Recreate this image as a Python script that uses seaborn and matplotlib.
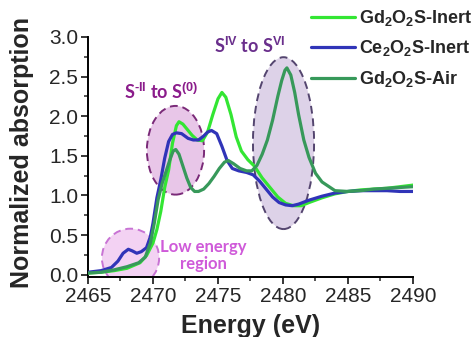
import numpy as np
import pandas as pd
import matplotlib
matplotlib.use("Agg")
import matplotlib.pyplot as plt
from matplotlib.patches import Ellipse
from matplotlib.ticker import MultipleLocator
import seaborn as sns

# ---------------- data ----------------
gd_inert_E = [2465, 2466, 2467, 2468, 2469, 2469.5, 2470.0, 2470.3, 2470.6, 2470.9,
              2471.2, 2471.5, 2471.8, 2472.0, 2472.3, 2472.6, 2473.0, 2473.4, 2473.8,
              2474.2, 2474.6, 2475.0, 2475.3, 2475.6, 2476.0, 2476.4, 2476.8, 2477.3,
              2477.8, 2478.4, 2479.0, 2479.6, 2480.2, 2480.8, 2481.4, 2482.0, 2483.0,
              2484.0, 2485.0, 2486.0, 2487.0, 2488.0, 2489.0, 2490.0]
gd_inert_A = [0.02, 0.03, 0.05, 0.08, 0.15, 0.24, 0.40, 0.57, 0.80, 1.10,
              1.32, 1.66, 1.88, 1.93, 1.90, 1.84, 1.76, 1.70, 1.69,
              1.80, 2.02, 2.22, 2.30, 2.24, 2.02, 1.74, 1.56, 1.45,
              1.37, 1.22, 1.10, 0.98, 0.90, 0.87, 0.87, 0.91, 0.97,
              1.02, 1.05, 1.07, 1.08, 1.09, 1.11, 1.13]

ce_inert_E = [2465, 2466, 2466.8, 2467.3, 2467.7, 2468.1, 2468.4, 2468.75, 2469.1, 2469.5,
              2469.8, 2470.0, 2470.3, 2470.6, 2470.9, 2471.2, 2471.5, 2471.8, 2472.2,
              2472.7, 2473.1, 2473.5, 2473.9, 2474.2, 2474.5, 2474.9, 2475.3, 2475.7,
              2476.1, 2476.6, 2477.2, 2477.7, 2478.2, 2478.7, 2479.2, 2479.7, 2480.2,
              2480.7, 2481.2, 2482.0, 2483.0, 2484.0, 2485.0, 2486.0, 2487.0, 2488.0,
              2489.0, 2490.0]
ce_inert_A = [0.03, 0.05, 0.09, 0.17, 0.27, 0.32, 0.30, 0.27, 0.29, 0.34,
              0.48, 0.65, 0.97, 1.20, 1.47, 1.68, 1.77, 1.79, 1.78,
              1.72, 1.70, 1.70, 1.75, 1.80, 1.82, 1.78, 1.62, 1.44,
              1.34, 1.31, 1.29, 1.26, 1.18, 1.08, 0.98, 0.91, 0.88,
              0.87, 0.89, 0.94, 0.99, 1.03, 1.05, 1.06, 1.06, 1.06,
              1.05, 1.05]

gd_air_E = [2465, 2466, 2467, 2468, 2468.9, 2469.4, 2469.8, 2470.1, 2470.4, 2470.7,
            2471.0, 2471.3, 2471.55, 2471.75, 2472.0, 2472.3, 2472.6, 2472.9, 2473.2,
            2473.5, 2473.9, 2474.3, 2474.7, 2475.1, 2475.5, 2475.8, 2476.2, 2476.7,
            2477.2, 2477.6, 2478.0, 2478.4, 2478.8, 2479.2, 2479.6, 2479.9, 2480.15,
            2480.3, 2480.6, 2480.9, 2481.2, 2481.6, 2482.0, 2482.5, 2483.0, 2484.0,
            2485.0, 2486.0, 2487.0, 2488.0, 2489.0, 2490.0]
gd_air_A = [0.02, 0.03, 0.06, 0.10, 0.15, 0.22, 0.40, 0.65, 0.95, 1.15,
            1.30, 1.45, 1.56, 1.58, 1.52, 1.37, 1.22, 1.10, 1.05,
            1.05, 1.08, 1.15, 1.24, 1.34, 1.42, 1.44, 1.40, 1.34,
            1.31, 1.31, 1.38, 1.52, 1.70, 1.95, 2.25, 2.45, 2.58,
            2.61, 2.52, 2.30, 2.02, 1.70, 1.48, 1.28, 1.17, 1.06,
            1.05, 1.06, 1.08, 1.09, 1.10, 1.11]

series_names = ["Gd$_2$O$_2$S-Inert", "Ce$_2$O$_2$S-Inert", "Gd$_2$O$_2$S-Air"]
series_colors = ["#33e633", "#3034b8", "#37995a"]

x_ticks = [2465, 2470, 2475, 2480, 2485, 2490]
y_ticks = [0.0, 0.5, 1.0, 1.5, 2.0, 2.5, 3.0]

# ---------------- style ----------------
sns.set_style("ticks")
plt.rcParams["font.family"] = ["Liberation Sans", "DejaVu Sans"]
plt.rcParams["mathtext.fontset"] = "custom"
plt.rcParams["mathtext.rm"] = "Liberation Sans:bold"
plt.rcParams["mathtext.it"] = "Liberation Sans:bold"
plt.rcParams["mathtext.bf"] = "Liberation Sans:bold"
plt.rcParams["mathtext.default"] = "rm"

df = pd.concat([
    pd.DataFrame({"E": gd_inert_E, "A": gd_inert_A, "s": series_names[0]}),
    pd.DataFrame({"E": ce_inert_E, "A": ce_inert_A, "s": series_names[1]}),
    pd.DataFrame({"E": gd_air_E, "A": gd_air_A, "s": series_names[2]}),
])

fig = plt.figure(figsize=(4.75, 3.37), dpi=100)
ax = fig.add_axes([88/475, 1-277/337, (413-88)/475, (277-37)/337])

# highlighted regions
ax.add_patch(Ellipse((2468.27, 0.21), 4.4, 0.74, facecolor="#f3d2f3",
                     edgecolor="#c873d4", linestyle=(0, (4, 2.5)), lw=1.4, zorder=1))
ax.add_patch(Ellipse((2471.73, 1.57), 4.4, 1.12, facecolor="#e8c6e8",
                     edgecolor="#7a2a78", linestyle=(0, (4, 2.5)), lw=1.4, zorder=1))
ax.add_patch(Ellipse((2480.04, 1.66), 4.7, 2.17, facecolor="#ddd2e8",
                     edgecolor="#54456f", linestyle=(0, (4, 2.5)), lw=1.4, zorder=1))

sns.lineplot(data=df, x="E", y="A", hue="s", palette=series_colors,
             hue_order=series_names, sort=False, lw=2.3, ax=ax, zorder=3,
             legend=True)

ax.set_xlim(2465, 2490)
ax.set_ylim(-0.03, 3.0)
ax.set_xticks(x_ticks)
ax.set_yticks(y_ticks)
ax.set_yticklabels([f"{v:.1f}" for v in y_ticks])
ax.xaxis.set_minor_locator(MultipleLocator(2.5))
ax.yaxis.set_minor_locator(MultipleLocator(0.25))
ax.tick_params(which="major", direction="out", length=5, width=1.3, labelsize=15, pad=2)
ax.tick_params(which="minor", direction="out", length=3, width=1.1)
for s in ["top", "right"]:
    ax.spines[s].set_visible(False)
for s in ["left", "bottom"]:
    ax.spines[s].set_linewidth(1.4)
    ax.spines[s].set_color("black")

ax.set_xlabel("Energy (eV)", fontsize=18, fontweight="bold", labelpad=6)
ax.set_ylabel("Normalized absorption", fontsize=18, fontweight="bold")
ax.yaxis.set_label_coords(-0.165, 0.52)

# annotations
ax.text(2470.6, 2.30, "S$^{\u2010II}$ to S$^{(0)}$", color="#8b1c8b", fontsize=13,
        fontweight="bold", family=["Lato", "DejaVu Sans"], ha="center", va="center")
ax.text(2477.46, 2.89, "S$^{IV}$ to S$^{VI}$", color="#6a2f8c", fontsize=13,
        fontweight="bold", family=["Lato", "DejaVu Sans"], ha="center", va="center")
ax.text(2473.85, 0.24, "Low energy\nregion", color="#cf5ad9", fontsize=12,
        fontweight="bold", family=["Lato", "DejaVu Sans"], ha="center", va="center",
        linespacing=1.05)

leg = ax.legend(loc="upper left", bbox_to_anchor=(311/475, 1-8/337),
                bbox_transform=fig.transFigure, frameon=False, fontsize=13,
                handlelength=2.45, handletextpad=0.2, labelspacing=0.58,
                borderpad=0, borderaxespad=0, title=None)
for t in leg.get_texts():
    t.set_fontweight("bold")
    t.set_family(["Liberation Sans", "DejaVu Sans"])
for l in leg.get_lines():
    l.set_linewidth(2.3)

fig.savefig("out.png", dpi=100)
